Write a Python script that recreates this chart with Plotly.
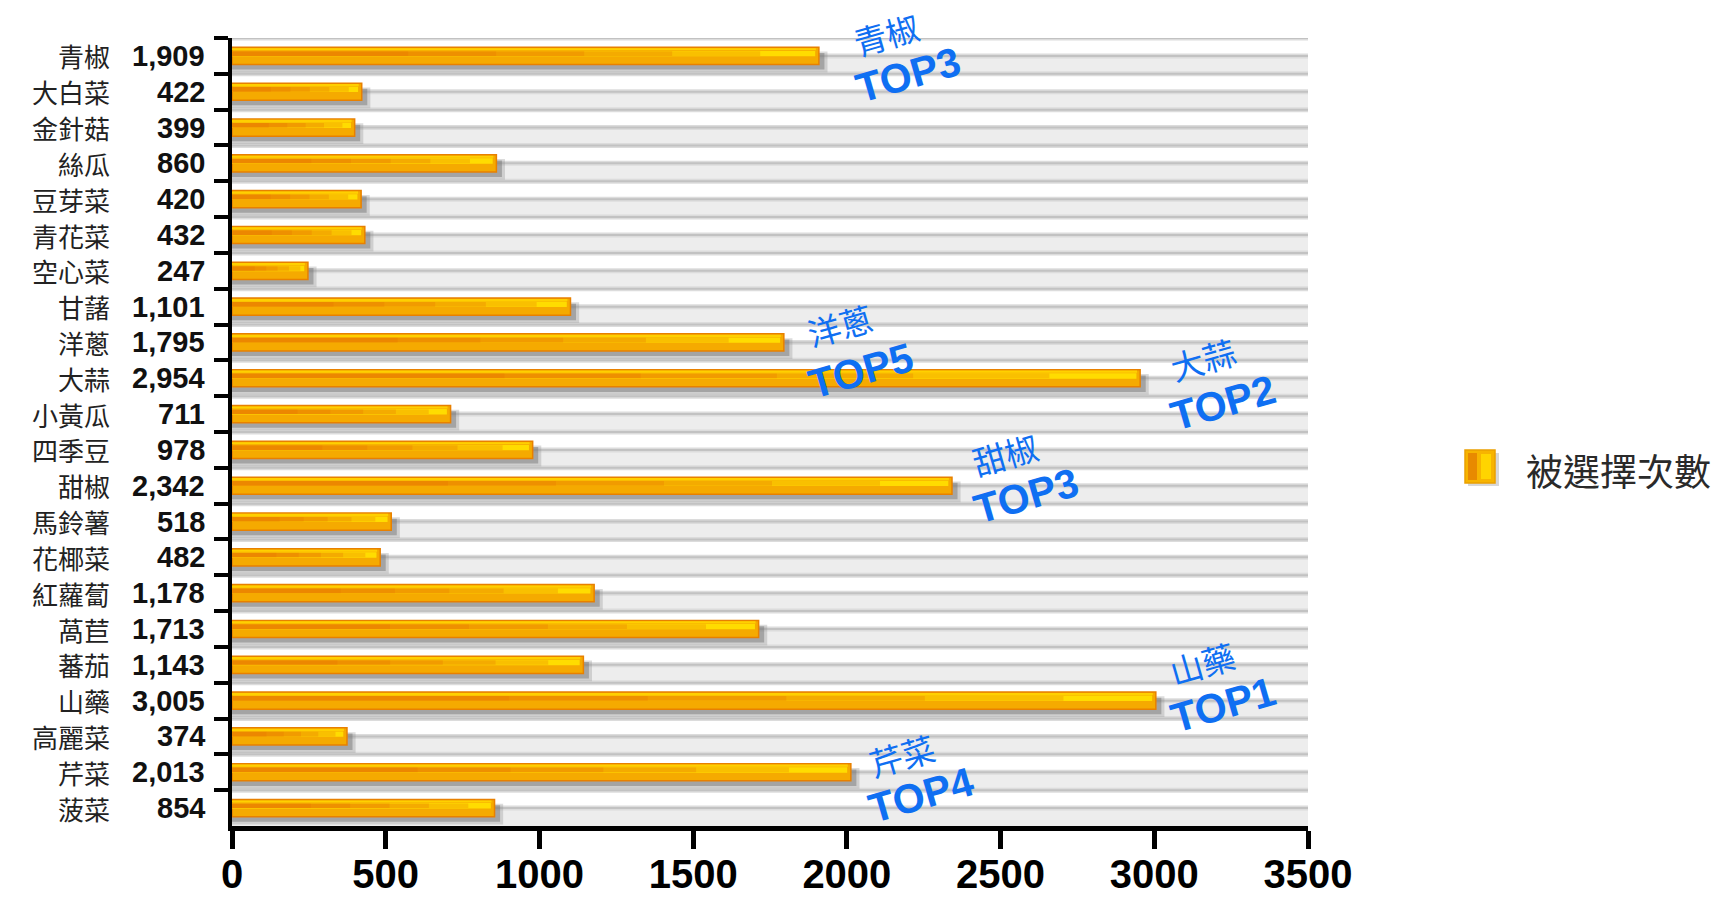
import plotly.graph_objects as go

# Vegetables and how many times each was chosen
categories = ["青椒", "大白菜", "金針菇", "絲瓜", "豆芽菜", "青花菜", "空心菜", "甘藷",
              "洋蔥", "大蒜", "小黃瓜", "四季豆", "甜椒", "馬鈴薯", "花椰菜", "紅蘿蔔",
              "萵苣", "蕃茄", "山藥", "高麗菜", "芹菜", "菠菜"]
counts = [1909, 422, 399, 860, 420, 432, 247, 1101, 1795, 2954, 711, 978,
          2342, 518, 482, 1178, 1713, 1143, 3005, 374, 2013, 854]
series_name = "被選擇次數"
x_ticks = [0, 500, 1000, 1500, 2000, 2500, 3000, 3500]

# Highlighted ranks: (vegetable, rank text)
top_items = [("青椒", "TOP3"), ("洋蔥", "TOP5"), ("大蒜", "TOP2"),
             ("甜椒", "TOP3"), ("山藥", "TOP1"), ("芹菜", "TOP4")]
# pixel offsets from the bar end: (name dx, name dy, rank dx, rank dy)
top_offsets = [(67, 22, 89, -19), (56, 17, 77, -29), (63, 19, 83, -25),
               (53, 32, 74, -10), (46, 38, 67, -4), (51, 17, 71, -23)]

W, H = 1726, 901
L_M, R_M, T_M, B_M = 232, 418, 38, 75
PW = W - L_M - R_M
PH = H - T_M - B_M
n = len(categories)

fig = go.Figure()

# drop shadow under each bar
fig.add_trace(go.Bar(y=categories, x=[v + 28 for v in counts], orientation="h",
                     offset=-0.12, width=0.58,
                     marker=dict(color="rgba(140,140,140,0.30)", line=dict(width=0)),
                     showlegend=False, hoverinfo="skip"))
fig.add_trace(go.Bar(y=categories, x=[v + 18 for v in counts], orientation="h",
                     offset=-0.08, width=0.46,
                     marker=dict(color="rgba(110,110,110,0.45)", line=dict(width=0)),
                     showlegend=False, hoverinfo="skip"))

# main bar body
fig.add_trace(go.Bar(y=categories, x=counts, orientation="h", name=series_name,
                     offset=-0.24, width=0.48,
                     marker=dict(color="#f5aa00", line=dict(color="#e88000", width=1.5)),
                     showlegend=False))
# upper light edge
fig.add_trace(go.Bar(y=categories, x=[v - 10 for v in counts], orientation="h",
                     offset=-0.215, width=0.06,
                     marker=dict(color="#ffd000", line=dict(width=0)),
                     showlegend=False, hoverinfo="skip"))
# central yellow highlight
fig.add_trace(go.Bar(y=categories, x=[v - 12 for v in counts], orientation="h",
                     offset=-0.14, width=0.15,
                     marker=dict(color="#ffdc00", line=dict(width=0)),
                     showlegend=False, hoverinfo="skip"))
# orange streak fading towards the bar end
for frac in (0.9, 0.75, 0.6, 0.45, 0.3):
    fig.add_trace(go.Bar(y=categories, x=[v * frac for v in counts], orientation="h",
                         offset=-0.13, width=0.13,
                         marker=dict(color="rgba(230,112,0,0.26)", line=dict(width=0)),
                         showlegend=False, hoverinfo="skip"))

# striped background bands
shapes = []
for i in range(n):
    shapes.append(dict(type="rect", xref="x", yref="y", x0=0, x1=3500, y0=i, y1=i + 0.5,
                       fillcolor="#ededed", line=dict(width=0), layer="below"))
for i in range(n):
    for yv in (i - 0.5, i):
        shapes.append(dict(type="line", xref="x", yref="y", x0=0, x1=3500, y0=yv, y1=yv,
                           line=dict(color="#dcdcdc", width=5), layer="below"))
        shapes.append(dict(type="line", xref="x", yref="y", x0=0, x1=3500, y0=yv, y1=yv,
                           line=dict(color="#c2c2c2", width=2), layer="below"))

# legend swatch drawn by hand
def px_x(p):
    return (p - L_M) / PW

def px_y(p):
    return (H - B_M - p) / PH

shapes.append(dict(type="rect", xref="paper", yref="paper",
                   x0=px_x(1468), x1=px_x(1499), y0=px_y(486), y1=px_y(453),
                   fillcolor="rgba(140,140,140,0.35)", line=dict(width=0)))
shapes.append(dict(type="rect", xref="paper", yref="paper",
                   x0=px_x(1465), x1=px_x(1495), y0=px_y(483), y1=px_y(450),
                   fillcolor="#f7b400", line=dict(color="#eaa000", width=1.5)))
shapes.append(dict(type="rect", xref="paper", yref="paper",
                   x0=px_x(1468), x1=px_x(1477), y0=px_y(480), y1=px_y(453),
                   fillcolor="#e88a00", line=dict(width=0)))
shapes.append(dict(type="rect", xref="paper", yref="paper",
                   x0=px_x(1481), x1=px_x(1491), y0=px_y(479), y1=px_y(454),
                   fillcolor="#ffd400", line=dict(width=0)))

annotations = []
# category names and their counts to the left of the axis
for cat, v in zip(categories, counts):
    annotations.append(dict(x=0, xref="paper", y=cat, yref="y", xanchor="right",
                            yanchor="middle", xshift=-120, showarrow=False, text=cat,
                            font=dict(family="Noto Sans CJK TC", size=26, color="#222222")))
    annotations.append(dict(x=0, xref="paper", y=cat, yref="y", xanchor="right",
                            yanchor="middle", xshift=-25, showarrow=False, text=f"{v:,}",
                            font=dict(family="Liberation Sans", size=29, color="#111111",
                                      weight="bold")))

# rank call-outs
blue = "#0f6ff2"
for (cat, rank), (ndx, ndy, rdx, rdy) in zip(top_items, top_offsets):
    v = counts[categories.index(cat)]
    annotations.append(dict(x=v, y=cat, xref="x", yref="y", xanchor="center",
                            yanchor="middle", xshift=ndx, yshift=ndy, showarrow=False,
                            text=cat, textangle=-16,
                            font=dict(family="Noto Sans CJK TC", size=33, color=blue)))
    annotations.append(dict(x=v, y=cat, xref="x", yref="y", xanchor="center",
                            yanchor="middle", xshift=rdx, yshift=rdy, showarrow=False,
                            text=rank, textangle=-16,
                            font=dict(family="Liberation Sans", size=41, color=blue,
                                      weight="bold")))

# legend label
annotations.append(dict(x=px_x(1524), y=px_y(470), xref="paper", yref="paper",
                        xanchor="left", yanchor="middle", showarrow=False, text=series_name,
                        font=dict(family="Noto Sans CJK TC", size=37, color="#2a2a2a")))

fig.update_layout(
    width=W, height=H,
    margin=dict(l=L_M, r=R_M, t=T_M, b=B_M, pad=0, autoexpand=False),
    paper_bgcolor="white", plot_bgcolor="white",
    barmode="overlay",
    showlegend=False,
    shapes=shapes,
    annotations=annotations,
    xaxis=dict(range=[0, 3500], tickvals=x_ticks, showgrid=False, zeroline=False,
               automargin=False,
               showline=True, linecolor="black", linewidth=5,
               ticks="outside", ticklen=18, tickwidth=5, tickcolor="black",
               ticklabelstandoff=-9,
               tickfont=dict(family="Liberation Sans", size=40, color="black",
                             weight="bold")),
    yaxis=dict(type="category", categoryorder="array", categoryarray=categories,
               range=[n - 0.5, -0.5], showgrid=False, zeroline=False,
               automargin=False,
               showline=True, linecolor="black", linewidth=4,
               ticks="outside", tickson="boundaries", ticklen=14, tickwidth=4,
               tickcolor="black", showticklabels=False),
)

fig.write_html("out.html")
